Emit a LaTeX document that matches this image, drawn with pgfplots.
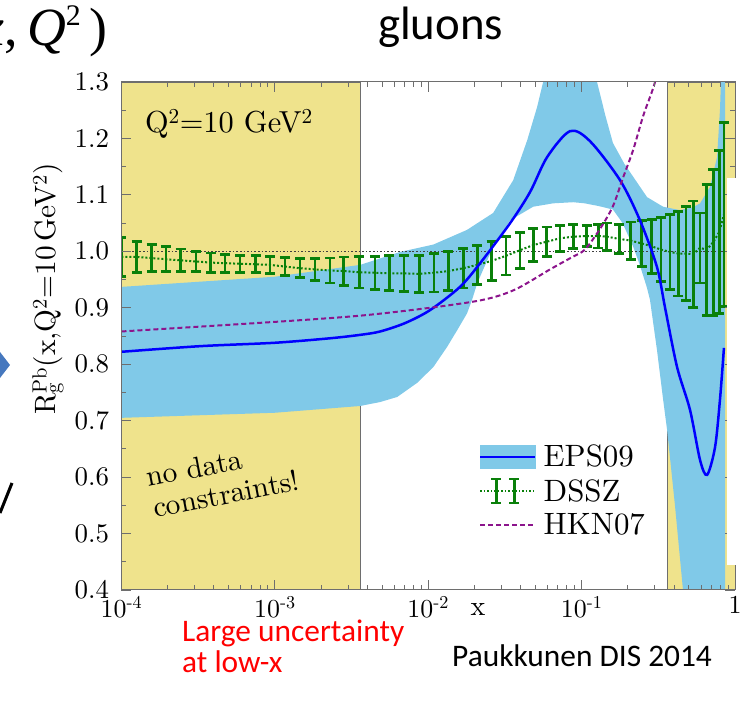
\documentclass[border=0pt]{standalone}
\usepackage{fontspec}
\setmainfont{lmroman10-regular}[Extension=.otf, ItalicFont=lmroman10-italic, BoldFont=lmroman10-bold]
\usepackage{pgfplots}
\usepackage{pgfplotstable}
\pgfplotsset{compat=1.18}
\newfontfamily\slidefont{Carlito}
\newfontfamily\timesfont{Liberation Serif}
\definecolor{yel}{RGB}{239,227,140}
\definecolor{band}{RGB}{128,201,232}
\definecolor{dgreen}{RGB}{10,128,10}
\definecolor{purp}{RGB}{140,20,140}
\definecolor{framec}{RGB}{110,110,110}
\definecolor{arrowblue}{RGB}{70,120,190}

\pgfplotstableread{
x y e
1.000e-4 0.990 0.034
1.256e-4 0.990 0.027
1.573e-4 0.988 0.024
1.950e-4 0.986 0.022
2.432e-4 0.984 0.020
3.062e-4 0.982 0.018
3.814e-4 0.980 0.017
4.729e-4 0.979 0.016
5.916e-4 0.978 0.015
7.499e-4 0.977 0.015
9.290e-4 0.976 0.015
1.164e-3 0.973 0.016
1.459e-3 0.970 0.017
1.825e-3 0.968 0.019
2.285e-3 0.966 0.022
2.818e-3 0.965 0.025
3.548e-3 0.963 0.028
4.495e-3 0.962 0.029
5.572e-3 0.961 0.031
6.950e-3 0.961 0.032
8.735e-3 0.960 0.033
0.01089 0.962 0.034
0.01349 0.965 0.034
0.01690 0.970 0.035
0.02086 0.976 0.035
0.02588 0.983 0.035
0.03211 0.992 0.034
0.03963 1.002 0.032
0.04834 1.011 0.029
0.05912 1.017 0.026
0.07222 1.023 0.023
0.08818 1.026 0.021
0.1078 1.027 0.019
0.1283 1.027 0.021
0.1455 1.026 0.024
0.1758 1.022 0.026
0.2085 1.019 0.033
0.2459 1.014 0.041
0.2858 1.009 0.048
0.3289 1.003 0.057
0.3763 0.999 0.066
0.4263 0.996 0.075
0.4786 0.996 0.083
0.5346 0.995 0.094
0.5906 1.006 0.062
0.6531 1.003 0.116
0.7211 1.016 0.129
0.7889 1.034 0.144
0.8472 1.065 0.163
}\dssz

\begin{document}
\begin{tikzpicture}[x=1bp,y=1bp]
\path[use as bounding box] (0,0) rectangle (749,708);
\begin{axis}[
  at={(121.5bp,118bp)}, anchor=south west,
  scale only axis, width=613.5bp, height=508bp,
  xmode=log, xmin=1e-4, xmax=1, ymin=0.4, ymax=1.3,
  xtick={1e-4,1e-3,1e-2,1e-1,1},
  xticklabels={10\textsuperscript{-4},10\textsuperscript{-3},10\textsuperscript{-2},10\textsuperscript{-1},1},
  ytick={0.4,0.5,0.6,0.7,0.8,0.9,1.0,1.1,1.2,1.3},
  minor y tick num=1,
  yticklabel style={/pgf/number format/.cd, fixed, fixed zerofill, precision=1, assume math mode=true, /tikz/.cd, xshift=-9bp, font=\fontsize{27}{30}\selectfont},
  xticklabel style={font=\fontsize{26}{30}\selectfont, yshift=-3bp},
  tick align=inside,
  major tick length=10bp, minor tick length=5bp,
  axis line style={framec, line width=1bp},
  every tick/.style={framec, line width=0.8bp},
  axis on top,
  xlabel={x},
  xlabel style={at={(axis description cs:0.581,-0.039)}, anchor=center, font=\fontsize{28}{30}\selectfont},
  ylabel={R\rlap{\textsubscript{g}}\textsuperscript{Pb}(x,Q\textsuperscript{2}=10\,GeV\textsuperscript{2})},
  ylabel style={at={(axis description cs:-0.12,0.5925)}, anchor=center, font=\fontsize{29.5}{32}\selectfont},
  legend style={draw=none, fill=none, at={(rel axis cs:0.5827,0.2894)}, anchor=north west,
    font=\fontsize{31}{35}\selectfont, inner sep=0pt, row sep=7bp, column sep=5bp},
  legend cell align=left,
]
% legend images
\addlegendimage{legend image code/.code={\fill[band] (0bp,-11.5bp) rectangle (55bp,11.5bp); \draw[blue, line width=2.5bp] (0bp,0bp) -- (55bp,0bp);}}
\addlegendentry{EPS09}
\addlegendimage{legend image code/.code={\draw[dgreen, dotted, line width=1.5bp] (0bp,0bp) -- (55bp,0bp);
  \draw[dgreen, line width=2.8bp] (16bp,-12bp) -- (16bp,12bp) (11bp,-12bp) -- (21bp,-12bp) (11bp,12bp) -- (21bp,12bp)
   (34bp,-12bp) -- (34bp,12bp) (29bp,-12bp) -- (39bp,-12bp) (29bp,12bp) -- (39bp,12bp);}}
\addlegendentry{DSSZ}
\addlegendimage{legend image code/.code={\draw[purp, line width=2bp, dash pattern=on 5bp off 3bp] (0bp,0bp) -- (55bp,0bp);}}
\addlegendentry{HKN07}

% no data regions
\addplot[fill=yel, draw=framec, line width=0.8bp, forget plot] coordinates {(1e-4,0.4) (1e-4,1.3) (3.6e-3,1.3) (3.6e-3,0.4)} -- cycle;
\addplot[fill=yel, draw=framec, line width=0.8bp, forget plot] coordinates {(0.3605,0.4) (0.3605,1.3) (1,1.3) (1,0.4)} -- cycle;

% EPS09 band
\addplot[fill=band, draw=none, forget plot] coordinates {
(1e-4,0.937) (1e-3,0.955) (3.6e-3,0.976) (6.58e-3,0.999) (0.0108,1.012) (0.0179,1.038) (0.0265,1.068) (0.0358,1.126) (0.0442,1.197) (0.0513,1.256) (0.0561,1.30) (0.065,1.40) (0.09,1.45) (0.115,1.40) (0.126,1.30) (0.143,1.24) (0.160,1.192) (0.190,1.155) (0.217,1.132) (0.267,1.096) (0.340,1.079) (0.438,1.073) (0.532,1.078) (0.592,1.085) (0.687,1.114) (0.764,1.167) (0.798,1.25) (0.822,1.35) (0.861,1.6)
(0.861,0.2) (0.52,0.2) (0.458,0.40) (0.406,0.55) (0.361,0.683) (0.340,0.737) (0.310,0.825) (0.279,0.914) (0.267,0.935) (0.240,0.975) (0.217,1.008) (0.185,1.05) (0.160,1.074) (0.130,1.08) (0.105,1.085) (0.0881,1.087) (0.0652,1.085) (0.0483,1.079) (0.0342,1.055) (0.0265,1.008) (0.0209,0.944) (0.0193,0.914) (0.0179,0.89) (0.0155,0.861) (0.0133,0.831) (0.0108,0.795) (8.47e-3,0.767) (6.28e-3,0.742) (4.86e-3,0.733) (3.6e-3,0.726) (1e-3,0.714) (1e-4,0.705)
} -- cycle;

% reference line at 1
\addplot[black!75, dotted, line width=1.6bp, forget plot] coordinates {(1e-4,1) (1,1)};

% DSSZ
\addplot[dgreen, dotted, line width=2bp, mark=none, forget plot,
  error bars/.cd, y dir=both, y explicit,
  error bar style={solid, line width=2.8bp},
  error mark options={rotate=90, mark size=5bp, line width=2.8bp, solid, dgreen}]
  table[x=x, y=y, y error=e] {\dssz};

% EPS09 central
\addplot[blue, line width=2.5bp, smooth, forget plot] coordinates {
(1e-4,0.822) (3.27e-4,0.832) (1e-3,0.838) (2.3e-3,0.846) (3.6e-3,0.852) (4.86e-3,0.858) (7.08e-3,0.873) (0.0103,0.896) (0.0161,0.937) (0.0218,0.979) (0.0342,1.05) (0.0461,1.105) (0.0596,1.167) (0.0841,1.213) (0.1135,1.195) (0.178,1.126) (0.240,1.055) (0.310,0.972) (0.350,0.90) (0.419,0.795) (0.509,0.719) (0.592,0.630) (0.658,0.604) (0.741,0.653) (0.798,0.737) (0.847,0.829)
};

% HKN07
\addplot[purp, line width=2bp, dash pattern=on 5bp off 3bp, smooth, forget plot] coordinates {
(1e-4,0.858) (1e-3,0.875) (3.6e-3,0.886) (0.0103,0.900) (0.0208,0.912) (0.0294,0.922) (0.038,0.934) (0.0483,0.950) (0.0596,0.965) (0.0724,0.978) (0.087,0.990) (0.105,1.003) (0.132,1.04) (0.160,1.08) (0.186,1.13) (0.217,1.18) (0.252,1.24) (0.301,1.30) (0.33,1.36)
};

\node[anchor=base west, inner sep=0pt, font=\fontsize{30.5}{34}\selectfont] at (rel axis cs:0.038,0.90) {Q\textsuperscript{2}=10 GeV\textsuperscript{2}};
\node[anchor=base west, inner sep=0pt, rotate=11, font=\fontsize{29.5}{34}\selectfont] at (rel axis cs:0.0432,0.2028) {no data};
\node[anchor=base west, inner sep=0pt, rotate=11, font=\fontsize{29.5}{34}\selectfont] at (rel axis cs:0.0546,0.1417) {constraints!};
\end{axis}

% slide overlay / surroundings
\fill[white] (727,143) rectangle (750,530);
\node[anchor=base west, inner sep=0pt, font=\slidefont\fontsize{47}{50}\selectfont] at (378,668) {gluons};
\node[anchor=base west, inner sep=0pt, text=red, font=\slidefont\fontsize{31.5}{35}\selectfont] at (182,66) {Large uncertainty};
\node[anchor=base west, inner sep=0pt, text=red, font=\slidefont\fontsize{31.5}{35}\selectfont] at (182,35) {at low-x};
\node[anchor=base west, inner sep=0pt, font=\slidefont\fontsize{31.5}{35}\selectfont] at (452,41) {Paukkunen DIS 2014};
\node[anchor=base east, inner sep=0pt, font=\timesfont\fontsize{54}{56}\selectfont] at (108,662) {\itshape x\upshape,\,\itshape Q\upshape\raisebox{20bp}{\fontsize{30}{32}\selectfont 2}\,)};
\fill[arrowblue] (0,356) -- (10,343) -- (0,330) -- cycle;
\draw[black, line width=3bp] (0,195) -- (12,225);
\end{tikzpicture}
\end{document}
